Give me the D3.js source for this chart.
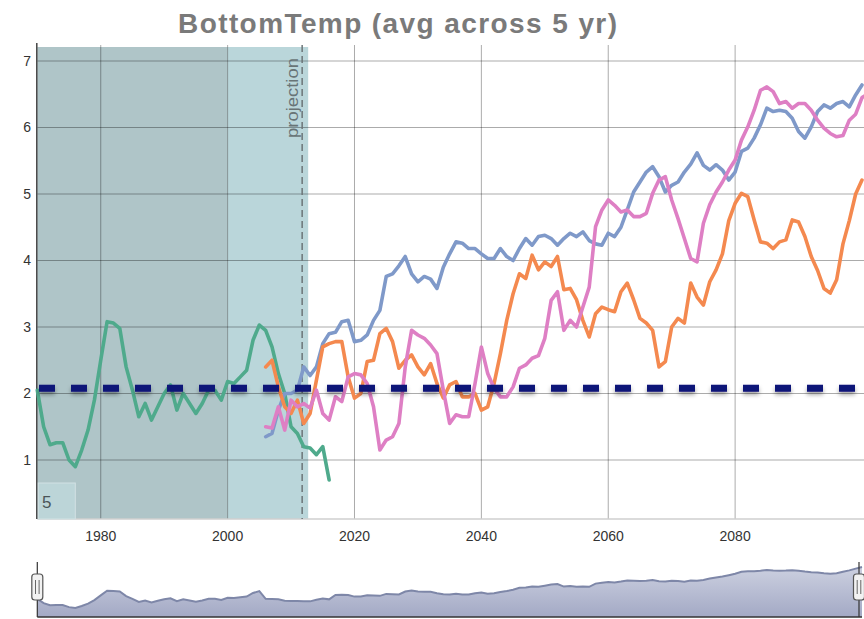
<!DOCTYPE html>
<html><head><meta charset="utf-8">
<script src="https://cdn.jsdelivr.net/npm/d3@7"></script>
<style>body{margin:0;background:#fff;} svg{display:block;font-family:"Liberation Sans",Arial,sans-serif;}</style>
</head><body><svg id="c" width="864" height="619"></svg>
<script>
// ---------- DATA ----------
const titleText = "BottomTemp (avg across 5 yr)";
const observedStart = 1970;
const observed = [2.05,1.50,1.23,1.26,1.26,1.00,0.90,1.15,1.45,1.90,
  2.50,3.08,3.06,2.98,2.40,2.05,1.65,1.85,1.60,1.80,
  2.00,2.13,1.75,2.00,1.85,1.70,1.85,2.05,2.05,1.90,
  2.18,2.15,2.25,2.35,2.80,3.03,2.95,2.70,2.30,2.00,
  1.50,1.40,1.20,1.18,1.08,1.20,0.70];
const projStart = 2006;
const projBlue = [1.35,1.40,1.75,2.00,2.00,2.05,2.40,2.27,2.40,2.75,
  2.90,2.92,3.08,3.10,2.78,2.80,2.88,3.10,3.25,3.76,
  3.80,3.92,4.06,3.80,3.68,3.76,3.72,3.58,3.90,4.10,
  4.28,4.26,4.18,4.18,4.10,4.03,4.03,4.18,4.06,4.00,
  4.18,4.33,4.23,4.36,4.38,4.33,4.23,4.33,4.41,4.36,
  4.43,4.30,4.25,4.23,4.41,4.36,4.50,4.76,5.03,5.18,
  5.33,5.41,5.26,5.03,5.13,5.18,5.33,5.45,5.62,5.43,
  5.36,5.44,5.36,5.21,5.33,5.64,5.69,5.84,6.04,6.29,
  6.24,6.26,6.24,6.14,5.94,5.84,6.01,6.24,6.34,6.29,
  6.36,6.39,6.31,6.49,6.64];
const projOrange = [2.40,2.50,2.10,1.80,1.70,1.90,1.55,1.70,2.20,2.70,
  2.75,2.78,2.78,2.25,1.93,2.00,2.48,2.50,2.90,2.98,
  2.78,2.38,2.50,2.58,2.40,2.28,2.45,2.15,1.93,2.13,
  2.18,1.95,1.95,2.00,1.75,1.80,2.15,2.60,3.10,3.50,
  3.80,3.73,4.08,3.86,3.98,3.91,4.06,3.56,3.58,3.41,
  3.10,2.85,3.20,3.30,3.26,3.23,3.53,3.66,3.41,3.13,
  3.06,2.95,2.40,2.48,3.00,3.13,3.06,3.66,3.45,3.33,
  3.68,3.86,4.10,4.60,4.86,5.01,4.96,4.61,4.28,4.26,
  4.18,4.28,4.31,4.61,4.58,4.36,4.06,3.85,3.58,3.51,
  3.71,4.25,4.60,5.00,5.21];
const projPink = [1.50,1.48,1.80,1.45,1.90,1.80,1.85,1.78,2.05,1.70,
  1.60,1.95,1.88,2.25,2.30,2.28,2.15,1.80,1.15,1.30,
  1.35,1.55,2.40,2.95,2.88,2.83,2.73,2.60,2.05,1.55,
  1.68,1.65,1.65,2.15,2.70,2.30,2.08,1.95,1.95,2.10,
  2.38,2.43,2.53,2.57,2.83,3.40,3.53,2.95,3.10,3.00,
  3.30,3.60,4.51,4.76,4.91,4.83,4.73,4.76,4.66,4.66,
  4.71,5.01,5.21,5.26,4.91,4.63,4.33,4.03,3.98,4.56,
  4.84,5.03,5.18,5.36,5.51,5.81,6.01,6.26,6.56,6.61,
  6.54,6.36,6.39,6.29,6.36,6.36,6.26,6.11,5.99,5.91,
  5.86,5.88,6.11,6.20,6.45,6.51];
const xTicks = [1980,2000,2020,2040,2060,2080];
const yTicks = [1,2,3,4,5,6,7];
const xDomain = [1970, 2100];
const refValue = 2.08;
const historyEnd = 2000;
const shadeEnd = 2012.7;
const projectionYear = 2011.75;
const projectionLabel = "projection";
const windowLabel = "5";

// ---------- SETUP ----------
const svg = d3.select("#c");
const W = 864, plotTop = 45, plotBottom = 519, plotLeft = 37.3, plotRight = 862;
const x = d3.scaleLinear().domain(xDomain).range([plotLeft, plotRight]);
const y = d3.scaleLinear().domain([1, 7]).range([460, 61]);

const toPts = (arr, start) => arr.map((v, i) => ({year: start + i, v}));
const series = [
  {name: "observed", color: "#4faa8c", pts: toPts(observed, observedStart)},
  {name: "blue", color: "#7f99c9", pts: toPts(projBlue, projStart)},
  {name: "orange", color: "#f4894f", pts: toPts(projOrange, projStart)},
  {name: "pink", color: "#de7fc4", pts: toPts(projPink, projStart)}
];

const defs = svg.append("defs");
const sh = defs.append("filter").attr("id", "shadow").attr("filterUnits", "userSpaceOnUse")
  .attr("x", 0).attr("y", 360).attr("width", 864).attr("height", 60);
sh.append("feDropShadow").attr("dx", 0).attr("dy", 3).attr("stdDeviation", 2).attr("flood-color", "#000").attr("flood-opacity", 0.35);
const grad = defs.append("linearGradient").attr("id", "navgrad").attr("x1", 0).attr("y1", 0).attr("x2", 0).attr("y2", 1);
grad.append("stop").attr("offset", "0%").attr("stop-color", "#ccd0e0");
grad.append("stop").attr("offset", "100%").attr("stop-color", "#a3a9c5");

// title
svg.append("text").attr("x", 397.5).attr("y", 33).attr("text-anchor", "middle")
  .attr("font-size", 28).attr("font-weight", "bold").attr("fill", "#7a7a7a")
  .attr("textLength", 439).attr("lengthAdjust", "spacing").text(titleText);

// shading
svg.append("rect").attr("x", x(xDomain[0])).attr("y", plotTop + 2)
  .attr("width", x(historyEnd) - x(xDomain[0])).attr("height", plotBottom - plotTop - 2).attr("fill", "#afc5c8");
svg.append("rect").attr("x", x(historyEnd)).attr("y", plotTop + 2)
  .attr("width", x(shadeEnd) - x(historyEnd)).attr("height", plotBottom - plotTop - 2).attr("fill", "#bad6da");

// grid
const g = svg.append("g");
g.selectAll(".hg").data(yTicks).join("line")
  .attr("x1", plotLeft).attr("x2", W).attr("y1", d => y(d)).attr("y2", d => y(d))
  .attr("stroke", "#000").attr("stroke-opacity", 0.33).attr("stroke-width", 1);
g.selectAll(".vg").data(xTicks).join("line")
  .attr("x1", d => x(d)).attr("x2", d => x(d)).attr("y1", plotTop).attr("y2", plotBottom)
  .attr("stroke", "#000").attr("stroke-opacity", 0.33).attr("stroke-width", 1);

// axes lines
svg.append("line").attr("x1", plotLeft).attr("x2", W).attr("y1", plotBottom).attr("y2", plotBottom)
  .attr("stroke", "#cfcfcf").attr("stroke-width", 1.5);
svg.append("line").attr("x1", plotLeft - 0.5).attr("x2", plotLeft - 0.5).attr("y1", plotTop - 2).attr("y2", plotBottom)
  .attr("stroke", "#444").attr("stroke-width", 1.5);

// tick labels
svg.selectAll(".yl").data(yTicks).join("text")
  .attr("x", 31).attr("y", d => y(d)).attr("dy", "0.35em").attr("text-anchor", "end")
  .attr("font-size", 14).attr("fill", "#333").text(d => d);
svg.selectAll(".xl").data(xTicks).join("text")
  .attr("x", d => x(d)).attr("y", 541).attr("text-anchor", "middle")
  .attr("font-size", 14).attr("fill", "#333").text(d => d);

// projection marker
svg.append("line").attr("x1", x(projectionYear)).attr("x2", x(projectionYear))
  .attr("y1", plotTop).attr("y2", plotBottom).attr("stroke", "#6c7678").attr("stroke-width", 1.5)
  .attr("stroke-dasharray", "7,4");
svg.append("text").attr("transform", `translate(${x(projectionYear) - 4},${58}) rotate(-90)`)
  .attr("text-anchor", "end").attr("font-size", 17).attr("fill", "#687476")
  .attr("textLength", 80).attr("lengthAdjust", "spacingAndGlyphs").text(projectionLabel);

// window label box
svg.append("rect").attr("x", plotLeft + 1).attr("y", 483).attr("width", 37).attr("height", 36)
  .attr("fill", "#bcd5d8").attr("stroke", "#d2e2e4").attr("stroke-width", 1);
svg.append("text").attr("x", 42).attr("y", 508).attr("font-size", 17).attr("fill", "#4a5558").text(windowLabel);

// series
const line = d3.line().x(d => x(d.year)).y(d => y(d.v)).curve(d3.curveLinear);
svg.append("g").selectAll("path").data(series).join("path")
  .attr("d", d => line(d.pts)).attr("fill", "none").attr("stroke", d => d.color)
  .attr("stroke-width", 3.6).attr("stroke-linejoin", "round").attr("stroke-linecap", "round");

// reference dashed line
svg.append("line").attr("x1", 39).attr("x2", plotRight).attr("y1", y(refValue)).attr("y2", y(refValue))
  .attr("stroke", "#0b1278").attr("stroke-width", 7).attr("stroke-dasharray", "16,16")
  .attr("filter", "url(#shadow)");

// ---------- NAVIGATOR ----------
const navYears = d3.range(xDomain[0], xDomain[1] + 1);
const navData = navYears.map(yr => {
  const vals = series.map(s => { const p = s.pts.find(q => q.year === yr); return p ? p.v : null; }).filter(v => v !== null);
  return {year: yr, v: d3.mean(vals)};
}).filter(d => d.v !== undefined);
const navBottom = 617;
const ny = d3.scaleLinear().domain([0, d3.max(navData, d => d.v)]).range([615, 567]);
const area = d3.area().x(d => x(d.year)).y0(navBottom).y1(d => ny(d.v));
svg.append("path").attr("d", area(navData)).attr("fill", "url(#navgrad)");
svg.append("path").attr("d", d3.line().x(d => x(d.year)).y(d => ny(d.v))(navData))
  .attr("fill", "none").attr("stroke", "#7e87a8").attr("stroke-width", 2);
svg.append("line").attr("x1", plotLeft).attr("x2", plotRight).attr("y1", navBottom).attr("y2", navBottom)
  .attr("stroke", "#333").attr("stroke-width", 1.5);
[xDomain[0], xDomain[1]].forEach(yr => {
  const hx = Math.min(x(yr), 859);
  svg.append("line").attr("x1", hx).attr("x2", hx).attr("y1", 562).attr("y2", navBottom)
    .attr("stroke", "#333").attr("stroke-width", 1.2);
  svg.append("rect").attr("x", hx - 5.5).attr("y", 574).attr("width", 11).attr("height", 26).attr("rx", 3)
    .attr("fill", "#f2f2f2").attr("stroke", "#555").attr("stroke-width", 1.2);
  [-1.8, 1.8].forEach(o => svg.append("line").attr("x1", hx + o).attr("x2", hx + o).attr("y1", 580).attr("y2", 594)
    .attr("stroke", "#666").attr("stroke-width", 1));
});
</script></body></html>
